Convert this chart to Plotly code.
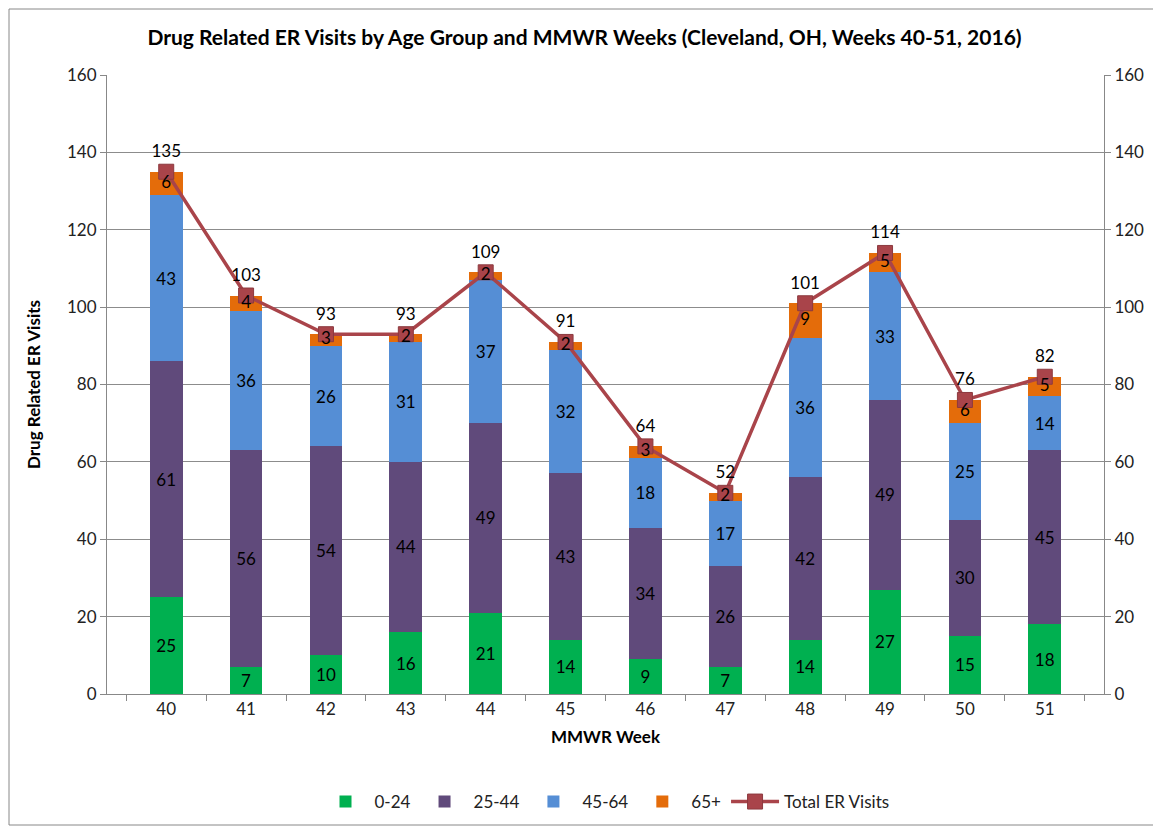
import plotly.graph_objects as go

weeks = ["40", "41", "42", "43", "44", "45", "46", "47", "48", "49", "50", "51"]
age_0_24 = [25, 7, 10, 16, 21, 14, 9, 7, 14, 27, 15, 18]
age_25_44 = [61, 56, 54, 44, 49, 43, 34, 26, 42, 49, 30, 45]
age_45_64 = [43, 36, 26, 31, 37, 32, 18, 17, 36, 33, 25, 14]
age_65p = [6, 4, 3, 2, 2, 2, 3, 2, 9, 5, 6, 5]
total = [135, 103, 93, 93, 109, 91, 64, 52, 101, 114, 76, 82]

FONT = "Lato, 'Open Sans', sans-serif"
OFF = 8  # browser default body margin
W, H = 1161 - OFF, 829 - OFF
ML, MR, MT, MB = 107 - OFF, 57, 75 - OFF, 135

fig = go.Figure()
series = [("0-24", age_0_24, "#00B050", True), ("25-44", age_25_44, "#604A7B", True),
          ("45-64", age_45_64, "#558ED5", True), ("65+", age_65p, "#E46C0A", False)]
for name, vals, col, inside_text in series:
    fig.add_trace(go.Bar(
        x=weeks, y=vals, name=name, marker=dict(color=col, line=dict(width=0)),
        text=[str(v) for v in vals] if inside_text else None,
        textposition="inside", insidetextanchor="middle",
        constraintext="none", textangle=0,
        textfont=dict(color="black", size=17, family=FONT),
        hoverinfo="skip"))

fig.add_trace(go.Scatter(
    x=weeks, y=total, name="Total ER Visits", yaxis="y2",
    mode="lines+markers+text", text=[str(v) for v in total], textposition="top center",
    textfont=dict(color="black", size=17, family=FONT),
    line=dict(color="#A9444A", width=3.5),
    marker=dict(symbol="square", size=15, color="#A9444A", line=dict(color="#8C3A3F", width=1)),
))

# 65+ labels drawn above the line (as in the original)
mid_65 = [a + b + c + d / 2 for a, b, c, d in zip(age_0_24, age_25_44, age_45_64, age_65p)]
fig.add_trace(go.Scatter(
    x=weeks, y=mid_65, yaxis="y2", mode="text", text=[str(v) for v in age_65p],
    textposition="middle center", textfont=dict(color="black", size=17, family=FONT),
    showlegend=False, hoverinfo="skip"))

pw = W - ML - MR
ph = H - MT - MB

fig.update_layout(
    width=W, height=H,
    margin=dict(l=ML, r=MR, t=MT, b=MB, autoexpand=False),
    paper_bgcolor="white", plot_bgcolor="white",
    barmode="stack", bargap=0.59,
    font=dict(family=FONT, size=17, color="#222"),
    title=dict(text="<b>Drug Related ER Visits by Age Group and MMWR Weeks (Cleveland, OH, Weeks 40-51, 2016)</b>",
               x=0.5, xanchor="center", y=1 - (38 - OFF) / H, yanchor="middle",
               font=dict(size=21, color="black", family=FONT)),
    xaxis=dict(type="category", automargin=False,
               title=dict(text="<b>MMWR Week</b>", font=dict(size=17, color="black"), standoff=12),
               showline=True, linecolor="#888", linewidth=1, ticks="outside", tickson="boundaries",
               ticklen=6, tickcolor="#888", showgrid=False, tickfont=dict(size=17, color="#222")),
    yaxis=dict(range=[0, 160], dtick=20, automargin=False,
               title=dict(text="<b>Drug Related ER Visits</b>", font=dict(size=17, color="black"), standoff=22),
               showline=True, linecolor="#888", ticks="outside", ticklen=6, tickcolor="#888",
               showgrid=True, gridcolor="#8C8C8C", gridwidth=1, zeroline=False,
               tickfont=dict(size=17, color="#222")),
    yaxis2=dict(range=[0, 160], dtick=20, overlaying="y", side="right", automargin=False,
                showline=True, linecolor="#888", ticks="outside", ticklen=6, tickcolor="#888",
                showgrid=False, zeroline=False, tickfont=dict(size=17, color="#222")),
    legend=dict(orientation="h", x=0.5, xanchor="center", y=-(802 - 694) / ph, yanchor="middle",
                traceorder="normal", itemwidth=48, font=dict(size=17, color="#222")),
    showlegend=True,
)

# chart frame border
fig.add_shape(type="rect", xref="paper", yref="paper",
              x0=(1 - ML) / pw, x1=(1155 - OFF - ML) / pw,
              y0=-(H - 4 - MT - ph) / ph, y1=1 + (MT - 1) / ph,
              line=dict(color="#888", width=1), fillcolor="rgba(0,0,0,0)", layer="below")

fig.write_html("out.html")
